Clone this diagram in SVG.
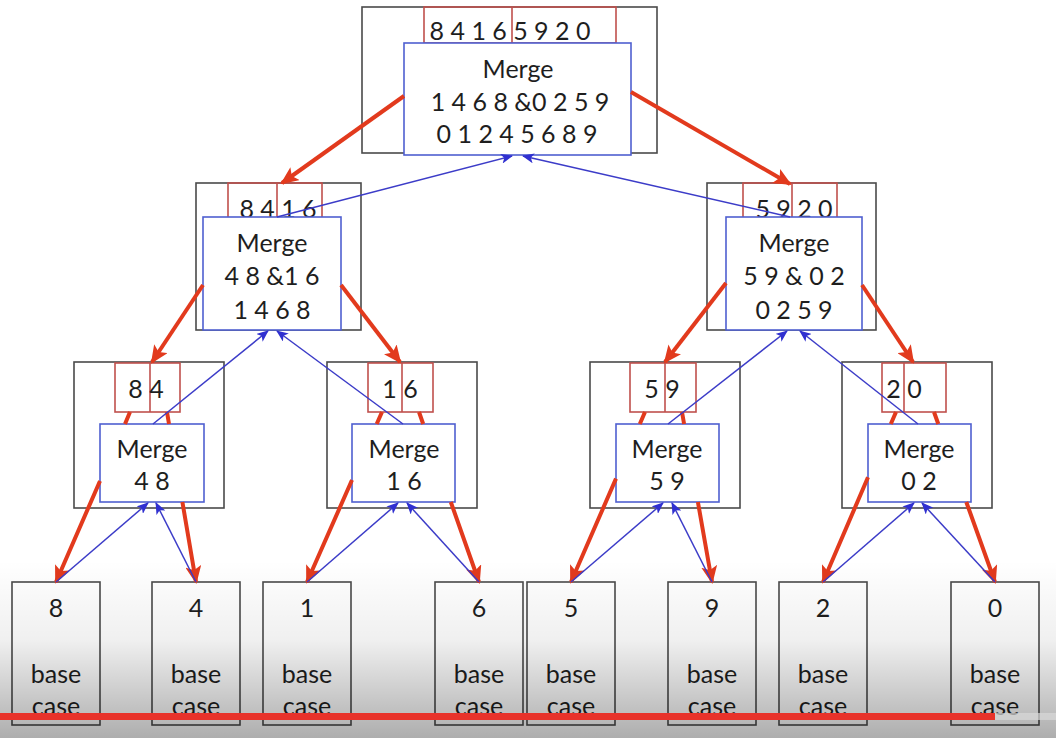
<svg xmlns="http://www.w3.org/2000/svg" width="1056" height="738" viewBox="0 0 1056 738">
  <defs>
    <style>
      .outer { fill: #ffffff; stroke: #4a4a4a; stroke-width: 1.6; }
      .arr { fill: none; stroke: #c0504d; stroke-width: 1.6; }
      .mrg { fill: #ffffff; stroke: #4f5fd0; stroke-width: 1.6; }
      .leaf { fill: #ffffff; stroke: #4a4a4a; stroke-width: 1.6; }
      .t { font-family: Lato, "Open Sans", sans-serif; font-size: 25px; fill: #1e1e1e; text-anchor: middle; }
      .split { stroke: #c0504d; stroke-width: 1.6; }
      .down { fill: none; stroke: #e23a1d; stroke-width: 4; marker-end: url(#redHead); }
      .up { fill: none; stroke: #3c3cc8; stroke-width: 1.5; marker-end: url(#blueHead); }
    </style>
    <marker id="redHead" markerUnits="userSpaceOnUse" markerWidth="18" markerHeight="16" viewBox="0 0 18 16" refX="16" refY="8" orient="auto">
      <path d="M0,0 L18,8 L0,16 L4,8 z" fill="#e23a1d"/>
    </marker>
    <marker id="blueHead" markerUnits="userSpaceOnUse" markerWidth="12" markerHeight="10" viewBox="0 0 12 10" refX="11" refY="5" orient="auto">
      <path d="M0,0 L12,5 L0,10 L3,5 z" fill="#3030d0"/>
    </marker>
    <linearGradient id="shade" x1="0" y1="0" x2="0" y2="1">
      <stop offset="0" stop-color="#000" stop-opacity="0"/>
      <stop offset="0.45" stop-color="#000" stop-opacity="0.06"/>
      <stop offset="1" stop-color="#000" stop-opacity="0.32"/>
    </linearGradient>
  </defs>

  <rect width="1056" height="738" fill="#ffffff"/>

  <!-- root call -->
  <g id="n-root">
    <rect class="outer" x="362" y="7" width="295" height="146"/>
    <rect class="arr" x="424" y="7" width="192" height="36"/>
    <line class="split" x1="512" y1="7" x2="512" y2="43"/>
    <text class="t" x="510" y="40">8 4 1 6 5 9 2 0</text>
    <rect class="mrg" x="404" y="43" width="227" height="112"/>
    <text class="t" x="518" y="78">Merge</text>
    <text class="t" x="520" y="111">1 4 6 8 &amp;0 2 5 9</text>
    <text class="t" x="517" y="143">0 1 2 4 5 6 8 9</text>
  </g>

  <!-- second level -->
  <g id="n-left">
    <rect class="outer" x="196" y="183" width="165" height="147"/>
    <rect class="arr" x="228" y="183" width="94" height="35"/>
    <line class="split" x1="277" y1="183" x2="277" y2="218"/>
    <text class="t" x="278" y="218">8 4 1 6</text>
    <rect class="mrg" x="203" y="217" width="138" height="113"/>
    <text class="t" x="272" y="252">Merge</text>
    <text class="t" x="272" y="285">4 8 &amp;1 6</text>
    <text class="t" x="272" y="319">1 4 6 8</text>
  </g>

  <g id="n-right">
    <rect class="outer" x="707" y="183" width="169" height="147"/>
    <rect class="arr" x="743" y="183" width="94" height="35"/>
    <line class="split" x1="792" y1="183" x2="792" y2="218"/>
    <text class="t" x="794" y="218">5 9 2 0</text>
    <rect class="mrg" x="726" y="217" width="136" height="113"/>
    <text class="t" x="794" y="252">Merge</text>
    <text class="t" x="794" y="285">5 9 &amp; 0 2</text>
    <text class="t" x="794" y="319">0 2 5 9</text>
  </g>

  <!-- third level -->
  <g id="n-84">
    <rect class="outer" x="74" y="362" width="150" height="146"/>
    <rect class="arr" x="115" y="363" width="65" height="49"/>
    <line class="split" x1="150" y1="363" x2="150" y2="412"/>
    <text class="t" x="146" y="398">8 4</text>
    <rect class="mrg" x="100" y="424" width="104" height="78"/>
    <text class="t" x="152" y="458">Merge</text>
    <text class="t" x="152" y="490">4 8</text>
  </g>

  <g id="n-16">
    <rect class="outer" x="327" y="362" width="150" height="146"/>
    <rect class="arr" x="368" y="363" width="65" height="49"/>
    <line class="split" x1="402" y1="363" x2="402" y2="412"/>
    <text class="t" x="400" y="398">1 6</text>
    <rect class="mrg" x="352" y="424" width="103" height="78"/>
    <text class="t" x="404" y="458">Merge</text>
    <text class="t" x="404" y="490">1 6</text>
  </g>

  <g id="n-59">
    <rect class="outer" x="590" y="362" width="150" height="146"/>
    <rect class="arr" x="630" y="363" width="66" height="49"/>
    <line class="split" x1="665" y1="363" x2="665" y2="412"/>
    <text class="t" x="662" y="398">5 9</text>
    <rect class="mrg" x="616" y="424" width="103" height="78"/>
    <text class="t" x="667" y="458">Merge</text>
    <text class="t" x="667" y="490">5 9</text>
  </g>

  <g id="n-20">
    <rect class="outer" x="842" y="362" width="150" height="146"/>
    <rect class="arr" x="882" y="363" width="64" height="49"/>
    <line class="split" x1="904" y1="363" x2="904" y2="412"/>
    <text class="t" x="904" y="398">2 0</text>
    <rect class="mrg" x="868" y="424" width="103" height="78"/>
    <text class="t" x="919" y="458">Merge</text>
    <text class="t" x="919" y="490">0 2</text>
  </g>

  <!-- base cases -->
  <g id="leaf-8"><rect class="leaf" x="12" y="582" width="88" height="143"/><text class="t" x="56" y="617">8</text><text class="t" x="56" y="683">base</text><text class="t" x="56" y="715">case</text></g>
  <g id="leaf-4"><rect class="leaf" x="152" y="582" width="88" height="143"/><text class="t" x="196" y="617">4</text><text class="t" x="196" y="683">base</text><text class="t" x="196" y="715">case</text></g>
  <g id="leaf-1"><rect class="leaf" x="263" y="582" width="88" height="143"/><text class="t" x="307" y="617">1</text><text class="t" x="307" y="683">base</text><text class="t" x="307" y="715">case</text></g>
  <g id="leaf-6"><rect class="leaf" x="435" y="582" width="88" height="143"/><text class="t" x="479" y="617">6</text><text class="t" x="479" y="683">base</text><text class="t" x="479" y="715">case</text></g>
  <g id="leaf-5"><rect class="leaf" x="527" y="582" width="88" height="143"/><text class="t" x="571" y="617">5</text><text class="t" x="571" y="683">base</text><text class="t" x="571" y="715">case</text></g>
  <g id="leaf-9"><rect class="leaf" x="668" y="582" width="88" height="143"/><text class="t" x="712" y="617">9</text><text class="t" x="712" y="683">base</text><text class="t" x="712" y="715">case</text></g>
  <g id="leaf-2"><rect class="leaf" x="779" y="582" width="88" height="143"/><text class="t" x="823" y="617">2</text><text class="t" x="823" y="683">base</text><text class="t" x="823" y="715">case</text></g>
  <g id="leaf-0"><rect class="leaf" x="951" y="582" width="88" height="143"/><text class="t" x="995" y="617">0</text><text class="t" x="995" y="683">base</text><text class="t" x="995" y="715">case</text></g>

  <!-- connectors: red = split calls, blue = merged results returned -->
  <g id="connectors">
    <path class="down" d="M404,96 L282,183"/>
    <path class="down" d="M631,92 L790,184"/>
    <path class="down" d="M203,285 L152,362"/>
    <path class="down" d="M341,285 L400,362"/>
    <path class="down" d="M726,283 L665,362"/>
    <path class="down" d="M862,285 L913,362"/>

    <path class="down" d="M130,412 L125,424 M100,481 L56,582"/>
    <path class="down" d="M167,412 L169,424 M182.4,502 L196,582"/>
    <path class="down" d="M382,412 L376.7,424 M352,480 L307,582"/>
    <path class="down" d="M419,412 L423.2,424 M450.8,502 L479,582"/>
    <path class="down" d="M645,412 L639.8,424 M616,478.6 L571,582"/>
    <path class="down" d="M682,412 L684.1,424 M697.9,502 L712,582"/>
    <path class="down" d="M896,412 L890.8,424 M868,477.3 L823,582"/>
    <path class="down" d="M934,412 L938.3,424 M966.3,502 L995,582"/>

    <path class="up" d="M56,582 L148,503"/>
    <path class="up" d="M196,582 L156,503"/>
    <path class="up" d="M307,582 L398,503"/>
    <path class="up" d="M479,582 L407,503"/>
    <path class="up" d="M571,582 L663,503"/>
    <path class="up" d="M712,582 L672,503"/>
    <path class="up" d="M823,582 L914,503"/>
    <path class="up" d="M995,582 L922,503"/>

    <path class="up" d="M153,424 L268,331"/>
    <path class="up" d="M403,424 L277,331"/>
    <path class="up" d="M668,424 L787,331"/>
    <path class="up" d="M918,424 L800,331"/>

    <path class="up" d="M277,217 L512,156"/>
    <path class="up" d="M790,217 L523,156"/>
  </g>

  <!-- player shading and progress bar -->
  <rect x="0" y="560" width="1056" height="178" fill="url(#shade)"/>
  <rect x="0" y="713" width="1056" height="7" fill="#d8d8d8" fill-opacity="0.7"/>
  <rect x="0" y="713" width="995" height="7" fill="#e8322a"/>
</svg>
